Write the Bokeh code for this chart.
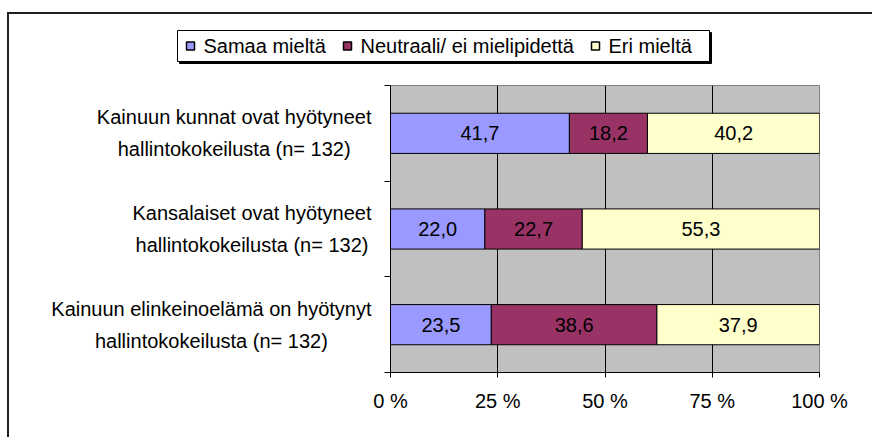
from bokeh.plotting import figure
from bokeh.models import (ColumnDataSource, Range1d, FixedTicker, LinearAxis, Grid)
from bokeh.core.properties import value
from bokeh.embed import file_html
from bokeh.resources import INLINE

# ---- data ----
categories = [
    "Kainuun kunnat ovat hyötyneet\nhallintokokeilusta (n= 132)",
    "Kansalaiset ovat hyötyneet\nhallintokokeilusta (n= 132)",
    "Kainuun elinkeinoelämä on hyötynyt\nhallintokokeilusta (n= 132)",
]
series_names = ["Samaa mieltä", "Neutraali/ ei mielipidettä", "Eri mieltä"]
samaa = [41.7, 22.0, 23.5]
neutraali = [18.2, 22.7, 38.6]
eri = [40.2, 55.3, 37.9]
x_ticks = [0, 25, 50, 75, 100]
x_tick_labels = ["0 %", "25 %", "50 %", "75 %", "100 %"]

colors = ["#9999FF", "#993366", "#FFFFCC"]
FONT = "Liberation Sans"
FS = "20px"

# ---- layout (page pixels) ----
FRAME_L, FRAME_T, FRAME_W, FRAME_H = 390, 85, 429, 287
X0, X1 = 0, 100
n = len(categories)
Y0, Y1 = 0, n


def px2x(px):
    return X0 + (px - FRAME_L) / FRAME_W * (X1 - X0)


def py2y(py):
    return Y1 - (py - FRAME_T) / FRAME_H * (Y1 - Y0)


ypos = [n - i - 0.5 for i in range(n)]  # top to bottom

src = ColumnDataSource(dict(y=ypos, s0=samaa, s1=neutraali, s2=eri, cat=categories,
                            x0=[0] * n))

p = figure(width=865, height=425, output_backend="svg", toolbar_location=None,
           x_range=Range1d(X0, X1), y_range=Range1d(Y0, Y1),
           min_border_left=381, min_border_right=55, min_border_top=71, min_border_bottom=67,
           background_fill_color="#C0C0C0", border_fill_color="white",
           x_axis_type=None, y_axis_type=None)
p.margin = (12, 0, 0, 7)
p.styles = {"border-left": "2px solid #202020", "border-top": "2px solid #202020"}
p.outline_line_color = "#808080"
p.outline_line_width = 1

# grid
p.add_layout(Grid(dimension=0, ticker=FixedTicker(ticks=x_ticks),
                  grid_line_color="black", grid_line_width=1))

renderers = p.hbar_stack(["s0", "s1", "s2"], y="y", height=0.42, source=src,
                         color=colors, line_color="black", line_width=1)

# value labels
vals = [samaa, neutraali, eri]
lx, ly, lt = [], [], []
for i in range(n):
    start = 0.0
    for s in range(3):
        v = vals[s][i]
        lx.append(start + v / 2)
        ly.append(ypos[i])
        lt.append(f"{v:.1f}".replace(".", ","))
        start += v
lsrc = ColumnDataSource(dict(x=lx, y=ly, t=lt))
p.text(x="x", y="y", text="t", source=lsrc, text_align="center", text_baseline="middle",
       text_font=value(FONT), text_font_size=FS, text_color="black")

# axes
xaxis = LinearAxis(ticker=FixedTicker(ticks=x_ticks),
                   major_label_overrides={t: l for t, l in zip(x_ticks, x_tick_labels)})
xaxis.axis_line_color = "black"
xaxis.major_tick_line_color = "black"
xaxis.major_tick_out = 5
xaxis.major_tick_in = 0
xaxis.minor_tick_line_color = None
xaxis.major_label_text_font = FONT
xaxis.major_label_text_font_size = FS
xaxis.major_label_text_color = "black"
xaxis.major_label_standoff = 12
p.add_layout(xaxis, "below")

yaxis = LinearAxis(ticker=FixedTicker(ticks=list(range(n + 1))))
yaxis.axis_line_color = "black"
yaxis.major_tick_line_color = "black"
yaxis.major_tick_out = 6
yaxis.major_tick_in = 0
yaxis.minor_tick_line_color = None
yaxis.major_label_text_font_size = "0px"
yaxis.major_label_text_color = None
p.add_layout(yaxis, "left")

# category labels (centered lines, right-anchored block)
cat_r = p.text(x="x0", y="y", text="cat", source=src, anchor=value("center_right"),
               text_align="center", text_baseline="middle", x_offset=-19,
               text_font=value(FONT), text_font_size=FS, text_color="black",
               text_line_height=1.45)
cat_r.level = "annotation"

# legend (drawn outside the plot area, above it)
LEG_L, LEG_R, LEG_T, LEG_B = 177, 709, 30, 61
LEG_CY = 45.5
SW = 4
sw_px = [190, 347, 595]
shadow = p.quad(left=[px2x(LEG_L + 2)], right=[px2x(LEG_R + 2)],
                top=[py2y(LEG_T + 2)], bottom=[py2y(LEG_B + 2)],
                fill_color="black", line_color="black")
shadow.level = "annotation"
box = p.quad(left=[px2x(LEG_L)], right=[px2x(LEG_R)], top=[py2y(LEG_T)], bottom=[py2y(LEG_B)],
             fill_color="white", line_color="black", line_width=1)
box.level = "annotation"
leg_src = ColumnDataSource(dict(
    x=[px2x(v) for v in sw_px], y=[py2y(LEG_CY)] * 3,
    l=[px2x(v - SW) for v in sw_px], r=[px2x(v + SW) for v in sw_px],
    t=[py2y(LEG_CY - SW)] * 3, b=[py2y(LEG_CY + SW)] * 3,
    c=colors, name=series_names))
sw = p.quad(left="l", right="r", top="t", bottom="b", source=leg_src,
            fill_color="c", line_color="black", line_width=1.5)
sw.level = "annotation"
lt_r = p.text(x="x", y="y", text="name", source=leg_src, x_offset=13, text_align="left",
              text_baseline="middle", text_font=value(FONT), text_font_size=FS,
              text_color="black")
lt_r.level = "annotation"

open("out.html", "w").write(file_html(p, INLINE))
